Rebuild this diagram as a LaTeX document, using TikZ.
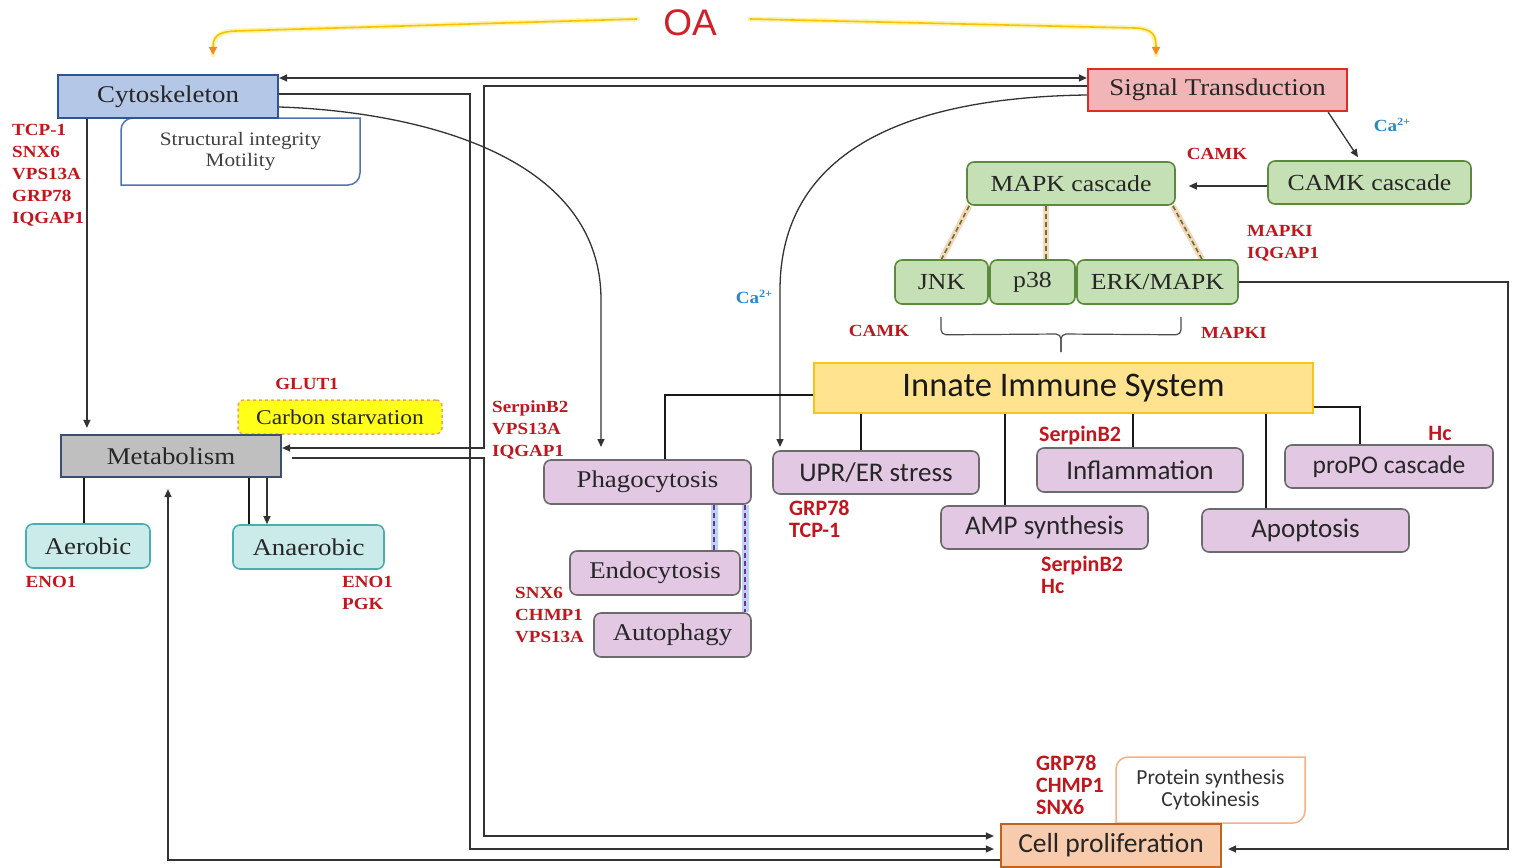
\documentclass[tikz,border=0pt]{standalone}
\usepackage{fontspec}
\setmainfont{Liberation Serif}[FakeStretch=1.12]
\newfontfamily\calfont{Carlito}
\newfontfamily\oafont{Liberation Sans}
\usetikzlibrary{arrows.meta,calc}

\definecolor{labred}{HTML}{C0171F}
\definecolor{labblue}{HTML}{2E86C8}
\definecolor{oared}{HTML}{D0202A}
\definecolor{oalinec}{HTML}{F5C400}
\definecolor{oaglowc}{HTML}{FFE766}
\definecolor{oatip}{HTML}{F08A24}
\definecolor{cytofill}{HTML}{B4C7E7}
\definecolor{cytoline}{HTML}{2F5597}
\definecolor{structline}{HTML}{4F74B0}
\definecolor{sigfill}{HTML}{F2B5B7}
\definecolor{sigline}{HTML}{E32A2A}
\definecolor{grfill}{HTML}{C5E0B4}
\definecolor{grline}{HTML}{5B8A3C}
\definecolor{iisfill}{HTML}{FFE38F}
\definecolor{iisline}{HTML}{F5C518}
\definecolor{metafill}{HTML}{BFBFBF}
\definecolor{metaline}{HTML}{3E4E6E}
\definecolor{carbfill}{HTML}{FFFF1A}
\definecolor{carbline}{HTML}{F0A060}
\definecolor{cyfill}{HTML}{CBEBEB}
\definecolor{cyline}{HTML}{4BAEAE}
\definecolor{pufill}{HTML}{E3C8E3}
\definecolor{puline}{HTML}{6B6B6B}
\definecolor{cellfill}{HTML}{F8CBAD}
\definecolor{cellline}{HTML}{C0631E}
\definecolor{protline}{HTML}{F4B183}
\definecolor{glowor}{HTML}{F8CBAD}
\definecolor{olive}{HTML}{5A7A2A}
\definecolor{dashpuc}{HTML}{7030A0}
\definecolor{glowbl}{HTML}{9DC3E6}
\definecolor{ink}{HTML}{262626}

\pgfdeclarelayer{bg}
\pgfsetlayers{bg,main}

\tikzset{
  box/.style={draw, line width=2.2pt, inner sep=0pt, text=ink,
    font=\fontsize{24}{28}\selectfont},
  rbox/.style={box, rounded corners=7pt, line width=1.6pt},
  greenbox/.style={rbox, fill=grfill, draw=grline, font=\fontsize{23}{28}\selectfont},
  purplebox/.style={rbox, fill=pufill, draw=puline},
  calbox/.style={purplebox, font=\calfont\fontsize{27}{30}\selectfont},
  cyanbox/.style={rbox, fill=cyfill, draw=cyline},
  redlab/.style={text=labred, font=\bfseries\fontsize{17}{22}\selectfont, align=left, inner sep=0pt},
  calred/.style={text=labred, font=\calfont\bfseries\fontsize{22}{22}\selectfont, align=left, inner sep=0pt},
  bluelab/.style={text=labblue, font=\bfseries\fontsize{17}{20}\selectfont, inner sep=0pt},
  conn/.style={line width=1.3pt, draw=black!80},
  trunk/.style={line width=2.6pt, draw=black!90},
  arrowhd/.style={-{Triangle[length=8pt,width=7pt]}},
  oaglow/.style={line width=5pt, draw=oaglowc, opacity=0.5, line cap=round},
  oaline/.style={line width=1.6pt, draw=oalinec, -{Triangle[length=8pt,width=8pt,color=oatip]}},
  glowo/.style={line width=6pt, draw=glowor, opacity=0.8},
  dasho/.style={line width=1.6pt, draw=olive, dash pattern=on 5pt off 3pt},
  glowp/.style={line width=7pt, draw=glowbl, opacity=0.7},
  dashp/.style={line width=2pt, draw=dashpuc, dash pattern=on 5pt off 3pt},
}

\begin{document}
\begin{tikzpicture}[x=1pt,y=-1pt]
\useasboundingbox (0,0) rectangle (1517,867);

% ---------- title and its two arrows ----------
\node[font=\oafont\fontsize{37}{37}\selectfont, text=oared, inner sep=0pt] (oa) at (690,23) {OA};
\coordinate (oaL) at (213,55);
\coordinate (oaR) at (1156,55);

% ---------- cytoskeleton block ----------
\draw[line width=1.5pt, draw=structline, fill=white]
  (121,185) -- (121,130) arc[start angle=180,end angle=90,radius=12pt]
  -- (360,118) -- (360,173) arc[start angle=0,end angle=-90,radius=12pt] -- cycle;
\node[font=\fontsize{19}{21}\selectfont, align=center, text=black!75, inner sep=0pt]
  (struct) at (240.5,151.5) {Structural integrity\\Motility};
\node[box, fill=cytofill, draw=cytoline, minimum width=220pt, minimum height=43pt]
  (cyto) at (168,96.5) {Cytoskeleton};
\node[redlab, anchor=north west] (cytolab) at (12,124) {TCP-1\\SNX6\\VPS13A\\GRP78\\IQGAP1};

% ---------- signalling ----------
\node[box, fill=sigfill, draw=sigline, minimum width=259pt, minimum height=42pt]
  (sig) at (1217.5,90) {Signal Transduction};
\node[greenbox, minimum width=203pt, minimum height=43pt] (camk) at (1369.5,182.5) {CAMK cascade};
\node[greenbox, minimum width=208pt, minimum height=43pt] (mapk) at (1071,183.5) {MAPK cascade};
\node[greenbox, minimum width=93pt, minimum height=44pt] (jnk) at (941.5,282) {JNK};
\node[greenbox, minimum width=85pt, minimum height=44pt] (p38) at (1032.5,282) {p38};
\node[greenbox, minimum width=161pt, minimum height=44pt] (erk) at (1157.5,282) {ERK/MAPK};

\node[bluelab] (ca1) at (1392,125) {Ca\raisebox{0.35em}{\fontsize{11}{11}\selectfont 2+}};
\node[redlab] (camk1) at (1217,154) {CAMK};
\node[redlab, anchor=north west] (mapki1) at (1247,225) {MAPKI\\IQGAP1};
\node[bluelab] (ca2) at (754,297) {Ca\raisebox{0.35em}{\fontsize{11}{11}\selectfont 2+}};
\node[redlab] (camk2) at (879,331) {CAMK};
\node[redlab] (mapki2) at (1234,333) {MAPKI};

% ---------- innate immune system ----------
\node[box, fill=iisfill, draw=iisline, minimum width=499pt, minimum height=50pt,
  font=\calfont\fontsize{34.5}{36}\selectfont, text=black!90] (iis) at (1063.5,388) {Innate Immune System};
\node[calbox, minimum width=206pt, minimum height=43pt] (upr) at (876,472.5) {UPR/ER stress};
\node[calbox, minimum width=207pt, minimum height=43pt] (amp) at (1044.5,527.5) {AMP synthesis};
\node[calbox, minimum width=206pt, minimum height=44pt] (infl) at (1140,470) {Inflammation};
\node[calbox, minimum width=207pt, minimum height=43pt] (apop) at (1305.5,530.5) {Apoptosis};
\node[calbox, minimum width=208pt, minimum height=43pt, font=\calfont\fontsize{25.5}{30}\selectfont]
  (propo) at (1389,466.5) {proPO cascade};
\node[calred, anchor=north west] (uprlab) at (789,500) {GRP78\\TCP-1};
\node[calred, anchor=west] (infllab) at (1039,436) {SerpinB2};
\node[calred, anchor=north west] (amplab) at (1041,556) {SerpinB2\\Hc};
\node[calred] (propolab) at (1440,433) {Hc};

% ---------- vesicle traffic ----------
\node[purplebox, minimum width=207pt, minimum height=44pt] (phago) at (647.5,482) {Phagocytosis};
\node[purplebox, minimum width=170pt, minimum height=44pt] (endo) at (655,573) {Endocytosis};
\node[purplebox, minimum width=157pt, minimum height=44pt] (auto) at (672.5,635) {Autophagy};
\node[redlab, anchor=north west] (phagolab) at (492,400) {SerpinB2\\VPS13A\\IQGAP1};
\node[redlab, anchor=north west] (autolab) at (515,587) {SNX6\\CHMP1\\VPS13A};

% ---------- metabolism ----------
\node[rbox, rounded corners=6pt, dashed, line width=1.5pt, fill=carbfill, draw=carbline,
  minimum width=204pt, minimum height=34pt, font=\fontsize{21}{24}\selectfont] (carb) at (340,417) {Carbon starvation};
\node[box, fill=metafill, draw=metaline, minimum width=220pt, minimum height=42pt] (meta) at (171,456) {Metabolism};
\node[cyanbox, minimum width=124pt, minimum height=44pt] (aer) at (88,546) {Aerobic};
\node[cyanbox, minimum width=151pt, minimum height=44pt] (anaer) at (308.5,547) {Anaerobic};
\node[redlab] (glut) at (307,384) {GLUT1};
\node[redlab] (enoa) at (51,582) {ENO1};
\node[redlab, anchor=north west] (enob) at (342,576) {ENO1\\PGK};

% ---------- cell proliferation ----------
\draw[line width=1.5pt, draw=protline, fill=white]
  (1116,823) -- (1116,769) arc[start angle=180,end angle=90,radius=12pt]
  -- (1305,757) -- (1305,811) arc[start angle=0,end angle=-90,radius=12pt] -- cycle;
\node[font=\calfont\fontsize{21.5}{22}\selectfont, align=center, text=black!80, inner sep=0pt]
  (prot) at (1210.5,790) {Protein synthesis\\Cytokinesis};
\node[box, fill=cellfill, draw=cellline, minimum width=220pt, minimum height=43pt,
  font=\calfont\fontsize{27.5}{30}\selectfont] (cell) at (1111,845.5) {Cell proliferation};
\node[calred, anchor=north west] (celllab) at (1036,755) {GRP78\\CHMP1\\SNX6};

% ---------- connectors ----------
\begin{pgfonlayer}{bg}
% OA arrows
\draw[oaglow] ($(oa.west)+(-26,-4)$) -- (235,31) .. controls (216,32) and (213,38) .. (oaL);
\draw[oaglow] ($(oa.east)+(33,-4)$) -- (1135,28) .. controls (1154,29) and (1156,36) .. (oaR);
\draw[oaline] ($(oa.west)+(-26,-4)$) -- (235,31) .. controls (216,32) and (213,38) .. (oaL);
\draw[oaline] ($(oa.east)+(33,-4)$) -- (1135,28) .. controls (1154,29) and (1156,36) .. (oaR);

% cytoskeleton <-> signal transduction
\coordinate (t78) at ($(cyto.east)+(0,-18.5)$);
\draw[conn, {Triangle[length=8pt,width=7pt]}-{Triangle[length=8pt,width=7pt]}] (t78) -- (t78 -| sig.west);

% signal transduction -> metabolism
\coordinate (rA) at (484,448);
\draw[conn, arrowhd] ($(sig.west)+(0,-4)$) -| (rA) -- (rA -| meta.east);

% metabolism -> cell proliferation
\coordinate (rB) at (484,458);
\draw[conn, arrowhd, shorten >=6pt] ($(meta.east)+(10,2)$) -- (rB) |- ($(cell.west)+(0,-9.5)$);

% cytoskeleton -> cell proliferation
\coordinate (rD) at (470,94);
\draw[conn, arrowhd, shorten >=6pt] ($(cyto.east)+(0,-2.5)$) -- (rD) |- ($(cell.west)+(0,3.5)$);

% cytoskeleton -> phagocytosis
\coordinate (phIn) at (601,447);
\draw[conn, arrowhd] ($(cyto.east)+(0,10.5)$) .. controls (380,110) and (601,140) .. (601,300) -- (phIn);

% signal transduction -> UPR/ER stress
\coordinate (uprIn) at (780,447);
\draw[conn, arrowhd] ($(sig.west)+(0,5)$) .. controls (860,98) and (780,180) .. (780,290) -- (uprIn);

% signal transduction -> CAMK cascade -> MAPK cascade
\draw[conn, arrowhd] ($(sig.south east)+(-20,0)$) -- ($(camk.north)+(-11.5,-3)$);
\coordinate (cm) at ($(camk.west)+(0,3.5)$);
\draw[conn, arrowhd] (cm) -- ($(cm -| mapk.east)+(13,0)$);

% MAPK cascade branches
\coordinate (k1) at ($(mapk.south west)+(3,0)$);
\coordinate (k2) at ($(mapk.south)+(-25,0)$);
\coordinate (k3) at ($(mapk.south east)+(-3,0)$);
\coordinate (j1) at (jnk.north);
\coordinate (j2) at ($(p38.north)+(13.5,0)$);
\coordinate (j3) at ($(erk.north)+(44.5,0)$);
\foreach \a/\b in {k1/j1,k2/j2,k3/j3} {
  \draw[glowo] (\a) -- (\b);
  \draw[dasho] (\a) -- (\b);
}

% brace gathering JNK, p38 and ERK/MAPK
\coordinate (brTip) at (1061,352);
\draw[line width=1.2pt, draw=black!70, rounded corners=5pt]
  ($(jnk.south)+(-0.5,12)$) -- ($(jnk.south)+(-0.5,30)$) -- (1061,334) -- (brTip);
\draw[line width=1.2pt, draw=black!70, rounded corners=5pt]
  ($(erk.south)+(23.5,12)$) -- ($(erk.south)+(23.5,30)$) -- (1061,334) -- (brTip);

% innate immune system branches
\draw[trunk] ($(iis.west)+(0,7)$) -| ($(phago.north)+(17.5,0)$);
\coordinate (u1) at ($(upr.north)+(-15,0)$);
\draw[trunk] (u1 |- iis.south) -- (u1);
\coordinate (u2) at ($(amp.north)+(-39.5,0)$);
\draw[trunk] (u2 |- iis.south) -- (u2);
\coordinate (u3) at ($(infl.north)+(-7,0)$);
\draw[trunk] (u3 |- iis.south) -- (u3);
\coordinate (u4) at ($(apop.north)+(-39.5,0)$);
\draw[trunk] (u4 |- iis.south) -- (u4);
\coordinate (u5) at ($(propo.north)+(-29,0)$);
\draw[trunk] ($(iis.east)+(0,19)$) -| (u5);

% phagocytosis -> endocytosis / autophagy
\coordinate (d1) at ($(phago.south)+(66.5,0)$);
\coordinate (d2) at ($(phago.south)+(97.5,0)$);
\draw[glowp] (d1) -- (d1 |- endo.north);
\draw[glowp] (d2) -- (d2 |- auto.north);
\draw[dashp] (d1) -- (d1 |- endo.north);
\draw[dashp] (d2) -- (d2 |- auto.north);

% metabolism branches
\coordinate (m1) at ($(aer.north)+(-4,0)$);
\draw[trunk] (m1 |- meta.south) -- (m1);
\coordinate (m2) at ($(anaer.north)+(-59.5,0)$);
\draw[trunk] (m2 |- meta.south) -- (m2);
\coordinate (m3) at ($(anaer.north)+(-41.5,0)$);
\draw[conn, arrowhd] (m3 |- meta.south) -- (m3);

% cytoskeleton -> metabolism
\coordinate (c1) at ($(cyto.south west)+(30,0)$);
\draw[conn, arrowhd, shorten >=6pt] (c1) -- (c1 |- meta.north);

% ERK/MAPK -> cell proliferation
\coordinate (e1) at (1508,282);
\draw[conn, arrowhd, shorten >=6pt] (erk.east) -- (e1) |- ($(cell.east)+(0,3.5)$);

% cell proliferation -> metabolism
\coordinate (f1) at ($(meta.south)+(-3,0)$);
\draw[conn, arrowhd, shorten >=11pt] ($(cell.west)+(0,14.5)$) -| (f1);
\end{pgfonlayer}
\end{tikzpicture}
\end{document}
